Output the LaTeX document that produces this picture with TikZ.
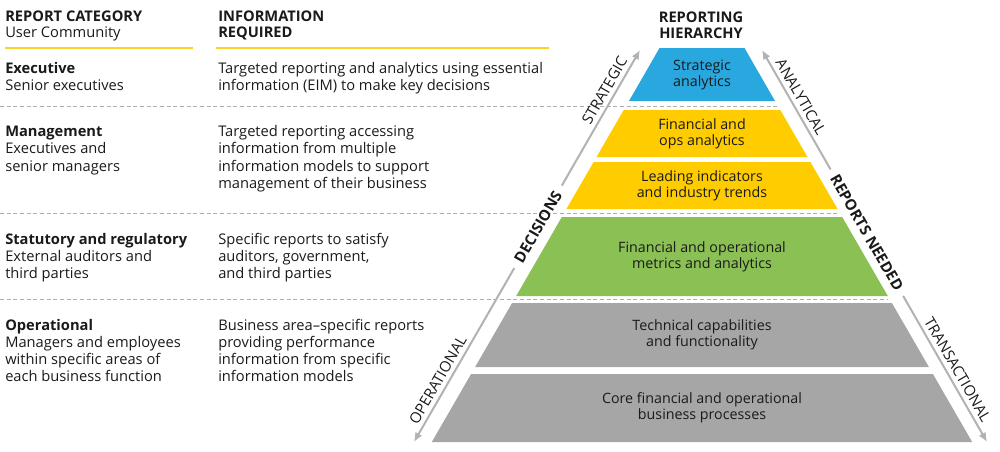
\documentclass[tikz,border=0pt]{standalone}
\usepackage{fontspec}
\setmainfont{Open Sans}
\usetikzlibrary{arrows.meta,positioning,calc}
\definecolor{hierblue}{RGB}{41,168,224}
\definecolor{hieryellow}{RGB}{255,204,0}
\definecolor{hiergreen}{RGB}{139,192,85}
\definecolor{hiergray}{RGB}{166,166,166}
\definecolor{rulegold}{RGB}{252,210,40}
\definecolor{arrowgray}{RGB}{178,178,178}
\definecolor{dashgray}{RGB}{175,175,175}
\definecolor{inktext}{RGB}{26,26,26}
\tikzset{
  coltext/.style={anchor=base west, align=left, inner sep=0pt, font=\fontsize{11}{12.9}\selectfont, text=inktext},
  colhead/.style={coltext, font=\fontsize{11}{12}\selectfont},
  layertext/.style={align=center, inner sep=0pt, font=\fontsize{10.7}{12}\selectfont, text=inktext},
  sidelabel/.style={anchor=south, inner xsep=1pt, inner ysep=3.5pt, font=\fontsize{11.2}{12}\selectfont, text=inktext},
  sidetitle/.style={inner xsep=5.5pt, inner ysep=1pt, font=\bfseries\fontsize{11.3}{12}\selectfont, text=inktext},
  sidearrow/.style={draw=arrowgray, line width=1.5pt, -{Latex[length=7pt,width=6pt]}},
  rowrule/.style={draw=dashgray, line width=0.75pt, dash pattern=on 3pt off 2pt},
  headrule/.style={draw=rulegold, line width=2.2pt}
}
\begin{document}
\begin{tikzpicture}[x=0.75pt,y=-0.75pt]
\useasboundingbox (0,0) rectangle (1000,451);

% column heads
\node[colhead] (cathead) at (5,37.5) {\textbf{REPORT CATEGORY}\\User Community};
\node[colhead] (infohead) at (218,37.5) {\textbf{INFORMATION}\\\textbf{REQUIRED}};
\node[colhead, anchor=base, align=center] (hierhead) at (701,38) {\textbf{REPORTING}\\\textbf{HIERARCHY}};
\draw[headrule] (5,48) -- (193,48);
\draw[headrule] (216,48) -- (549,48);

% rows
\node[coltext] (exec) at (5,90.5) {\textbf{Executive}\\Senior executives};
\node[coltext] (execinfo) at (218,90.5) {Targeted reporting and analytics using essential\\information (EIM) to make key decisions};
\node[coltext] (mgmt) at (5,171.1) {\textbf{Management}\\Executives and\\senior managers};
\node[coltext] (mgmtinfo) at (218,188.3) {Targeted reporting accessing\\information from multiple\\information models to support\\management of their business};
\node[coltext] (stat) at (5,278.4) {\textbf{Statutory and regulatory}\\External auditors and\\third parties};
\node[coltext] (statinfo) at (218,278.4) {Specific reports to satisfy\\auditors, government,\\and third parties};
\node[coltext] (oper) at (5,381.6) {\textbf{Operational}\\Managers and employees\\within specific areas of\\each business function};
\node[coltext] (operinfo) at (218,381.6) {Business area–specific reports\\providing performance\\information from specific\\information models};

\draw[rowrule] (0,106) -- (777,106);
\draw[rowrule] (0,213) -- (838,213);
\draw[rowrule] (0,299) -- (887,299);

% pyramid
\fill[hierblue] (659.5,48) -- (744.5,48) -- (775,101) -- (629,101) -- cycle;
\node[layertext] (strategic) at (702,74.5) {Strategic\\analytics};
\fill[hieryellow] (623.7,110) -- (780.3,110) -- (807.5,157) -- (596.5,157) -- cycle;
\node[layertext] (finops) at (702,133.5) {Financial and\\ops analytics};
\fill[hieryellow] (593.6,162) -- (810.4,162) -- (837.6,209) -- (566.4,209) -- cycle;
\node[layertext] (leading) at (702,185.5) {Leading indicators\\and industry trends};
\fill[hiergreen] (561.8,217) -- (842.2,217) -- (887.8,296) -- (516.2,296) -- cycle;
\node[layertext] (metrics) at (702,256.5) {Financial and operational\\metrics and analytics};
\fill[hiergray] (512.1,303) -- (891.9,303) -- (928.9,367) -- (475.1,367) -- cycle;
\node[layertext] (technical) at (702,335) {Technical capabilities\\and functionality};
\fill[hiergray] (471.1,374) -- (932.9,374) -- (972.2,442) -- (431.8,442) -- cycle;
\node[layertext] (core) at (702,408) {Core financial and operational\\business processes};

% side arrows
\coordinate (strtip) at (640,50);
\coordinate (optip) at (414,442);
\coordinate (antip) at (762,50);
\coordinate (trtip) at (987,442);
\node[sidetitle, rotate=60] (decisions) at ($(optip)!0.549!(strtip)$) {DECISIONS};
\node[sidetitle, rotate=-60] (needed) at ($(antip)!0.466!(trtip)$) {REPORTS NEEDED};
\draw[sidearrow] (decisions) -- (strtip);
\draw[sidearrow] (decisions) -- (optip);
\draw[sidearrow] (needed) -- (antip);
\draw[sidearrow] (needed) -- (trtip);
\node[sidelabel, rotate=60] (strlabel) at ($(optip)!0.883!(strtip)$) {STRATEGIC};
\node[sidelabel, rotate=60] (oplabel) at ($(optip)!0.145!(strtip)$) {OPERATIONAL};
\node[sidelabel, rotate=-60] (anlabel) at ($(antip)!0.133!(trtip)$) {ANALYTICAL};
\node[sidelabel, rotate=-60] (trlabel) at ($(antip)!0.829!(trtip)$) {TRANSACTIONAL};
\end{tikzpicture}
\end{document}
